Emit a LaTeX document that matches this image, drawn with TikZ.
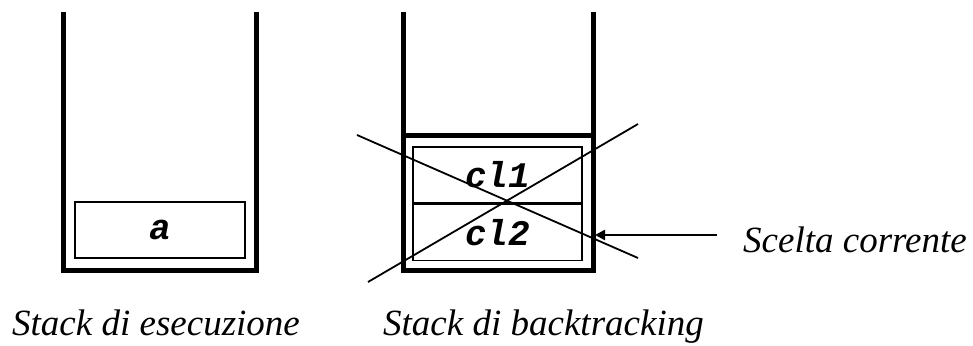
\documentclass[tikz,border=0pt]{standalone}
\usepackage{fontspec}
\setmainfont{Liberation Serif}
\setmonofont{Liberation Mono}
\usetikzlibrary{arrows.meta,positioning}

\begin{document}
\begin{tikzpicture}[
    x=1pt, y=-1pt,
    >={Triangle[length=10pt, width=10pt]},
    % --- styles ------------------------------------------------------
    wall/.style={line width=5pt, line join=miter},
    cell/.style={
        draw, line width=1.3pt, inner sep=0pt,
        minimum width=170pt, minimum height=56pt,
        font=\fontsize{36}{36}\selectfont\ttfamily\bfseries\itshape
    },
    caption/.style={font=\fontsize{37}{40}\selectfont\itshape, inner sep=0pt},
    cross/.style={line width=1.8pt},
    pointer/.style={->, line width=2.4pt}
]
\useasboundingbox (0,0) rectangle (973,345);

% --- stack di esecuzione -------------------------------------------
\draw[wall] (63,12) -- (63,270) -- (256,270) -- (256,12);
\node[cell] (a) at (160,230) {a};

% --- stack di backtracking -----------------------------------------
\draw[wall] (403,12) -- (403,270) -- (593,270) -- (593,12);
\draw[wall] (403,135) -- (593,135);
\node[cell, minimum width=169pt] (cl1) at (497.5,175) {cl1};
\node[cell, minimum width=169pt, below=0pt of cl1] (cl2) {cl2};

% cancelled choice point
\draw[cross] (357,135) -- (638,258);
\draw[cross] (368,282) -- (638,124);

% --- current choice -------------------------------------------------
\node[caption, anchor=base west] (scelta) at (743,252) {Scelta corrente};
\coordinate (tail) at (717,235);
\coordinate (tip) at (595,235);
\draw[pointer] (tail) -- (tip);

% --- captions -------------------------------------------------------
\node[caption, anchor=base west] (esec) at (12,335) {Stack di esecuzione};
\node[caption, anchor=base west] (back) at (383,335) {Stack di backtracking};

\end{tikzpicture}
\end{document}
